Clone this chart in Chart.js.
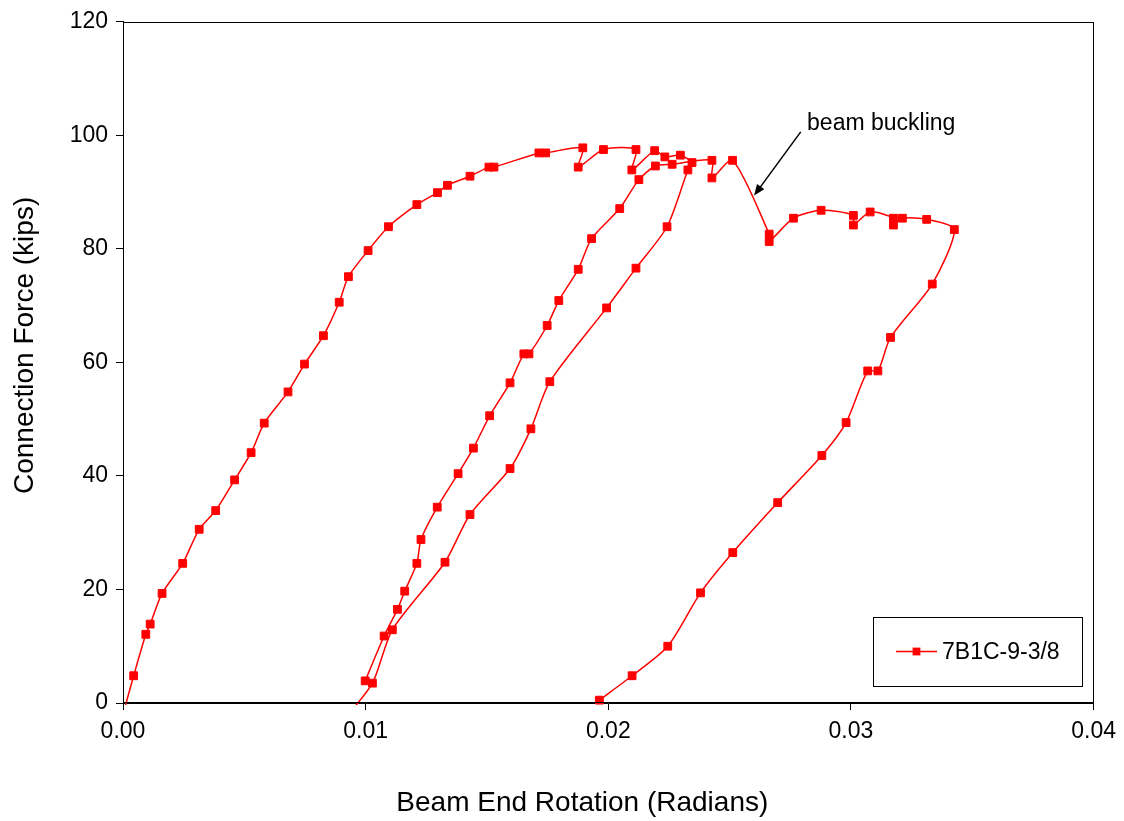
<!DOCTYPE html>
<html>
<head>
<meta charset="utf-8">
<title>7B1C-9-3/8 - Connection Force vs Beam End Rotation</title>
<script src="https://cdn.jsdelivr.net/npm/chart.js@4/dist/chart.umd.min.js"></script>
<style>
  html, body { margin: 0; padding: 0; background: #fff; }
  #chart { display: block; }
</style>
</head>
<body>
<canvas id="chart" width="1124" height="821"></canvas>
<script>
'use strict';

// Test record. Rotation in radians, force in kips.

// first loading, up to the start of the unload
var loadRotation = [0.0000, 0.00044, 0.00094, 0.00112, 0.00161, 0.00246, 0.00314, 0.00382, 0.0046, 0.00528,
    0.00582, 0.0068, 0.00748, 0.00826, 0.00891, 0.00929, 0.0101, 0.01094, 0.01211, 0.01296,
    0.01337, 0.0143, 0.01508, 0.01529, 0.01714, 0.01742, 0.01895, 0.01876, 0.0198, 0.02114,
    0.02097, 0.02191, 0.02233, 0.02297, 0.02345];
var loadForce = [-2, 4.8, 12.1, 13.9, 19.3, 24.6, 30.6, 33.9, 39.3, 44.1,
    49.3, 54.8, 59.7, 64.7, 70.6, 75.1, 79.7, 83.9, 87.8, 89.9,
    91.2, 92.8, 94.4, 94.4, 96.9, 96.9, 97.8, 94.4, 97.5, 97.5,
    93.9, 97.3, 96.2, 96.5, 95.2];

// unload (runs below zero, clipped by the axis)
var unloadRotation = [0.02328, 0.02242, 0.02114, 0.01993, 0.01759, 0.01681, 0.01595, 0.0143, 0.01327, 0.0111,
    0.01028, 0.0091];
var unloadForce = [93.9, 83.9, 76.6, 69.6, 56.6, 48.3, 41.3, 33.2, 24.8, 12.9,
    3.5, -3];

// reload back to the envelope
var reloadRotation = [0.00998, 0.01076, 0.01131, 0.01161, 0.01211, 0.01228, 0.01295, 0.01381, 0.01444, 0.01511,
    0.01595, 0.01652, 0.01673, 0.01748, 0.01796, 0.01876, 0.01931, 0.02047, 0.02126, 0.02194,
    0.02263, 0.02427, 0.02427, 0.02512];
var reloadForce = [3.9, 11.8, 16.5, 19.7, 24.6, 28.8, 34.5, 40.4, 44.9, 50.6,
    56.4, 61.5, 61.5, 66.5, 70.9, 76.4, 81.8, 87.1, 92.2, 94.6,
    94.9, 95.6, 92.5, 95.6];

// after beam buckling
var buckledRotation = [0.02663, 0.02663, 0.02763, 0.02877, 0.0301, 0.0301, 0.03079, 0.03175, 0.03175, 0.03212,
    0.03312, 0.03426];
var buckledForce = [82.6, 81.3, 85.4, 86.8, 85.9, 84.2, 86.5, 85.4, 84.2, 85.4,
    85.2, 83.4];

// final unload
var finalRotation = [0.03335, 0.03163, 0.03111, 0.03069, 0.0298, 0.0288, 0.02698, 0.02513, 0.0238, 0.02245,
    0.02098, 0.01963];
var finalForce = [73.8, 64.4, 58.5, 58.5, 49.4, 43.6, 35.3, 26.5, 19.4, 10.0,
    4.8, 0.5];

var seriesLabel = '7B1C-9-3/8';
var xTicks = [0, 0.01, 0.02, 0.03, 0.04];
var yTicks = [0, 20, 40, 60, 80, 100, 120];
var xTitle = 'Beam End Rotation (Radians)';
var yTitle = 'Connection Force (kips)';

// annotation, in data units
var noteText = 'beam buckling';
var noteAt = [0.02819, 102.1];
var arrowFrom = [0.02793, 100.6];
var arrowTo = [0.02601, 89.4];

var FONT = "'Liberation Sans', Arial, Helvetica, sans-serif";

/**
 * Zip rotation/force arrays into {x, y} points
 */
function toPoints(xs, ys) {
    return xs.map(function(x, i) {
        return { x: x, y: ys[i] };
    });
}

function buildPath() {
    var gap = { x: null, y: null };
    return []
        .concat(toPoints(loadRotation, loadForce))
        .concat(toPoints(unloadRotation, unloadForce))
        .concat([gap])
        .concat(toPoints(reloadRotation, reloadForce))
        .concat(toPoints(buckledRotation, buckledForce))
        .concat(toPoints(finalRotation, finalForce));
}

// black box round the plot area
var framePlugin = {
    id: 'frame',
    afterDraw: function(chart) {
        var a = chart.chartArea;
        var ctx = chart.ctx;
        ctx.save();
        ctx.strokeStyle = '#000';
        ctx.lineWidth = 1;
        ctx.strokeRect(Math.round(a.left) + 0.5, Math.round(a.top) + 0.5,
            Math.round(a.right - a.left) - 1, Math.round(a.bottom - a.top) - 1);
        ctx.restore();
    }
};

// axis titles - the original sits a bit off the plot centre
var titlePlugin = {
    id: 'axisTitles',
    afterDraw: function(chart) {
        var a = chart.chartArea;
        var ctx = chart.ctx;
        ctx.save();
        ctx.fillStyle = '#000';
        ctx.font = '28px ' + FONT;
        ctx.textAlign = 'center';
        ctx.textBaseline = 'middle';
        ctx.fillText(xTitle, (a.left + a.right) / 2 - 26, a.bottom + 100);

        ctx.translate(25, (a.top + a.bottom) / 2 - 17);
        ctx.rotate(-Math.PI / 2);
        ctx.fillText(yTitle, 0, 0);
        ctx.restore();
    }
};

// legend box inside the lower right corner
var legendPlugin = {
    id: 'legendBox',
    afterDraw: function(chart) {
        var a = chart.chartArea;
        var ctx = chart.ctx;
        var ds = chart.data.datasets[0];
        var w = 209, h = 69;
        var x = Math.round(a.right - 12 - w), y = Math.round(a.bottom - 17 - h);
        var cy = y + 34.5;
        var side = ds.pointRadius * Math.SQRT2;

        ctx.save();
        ctx.fillStyle = '#fff';
        ctx.fillRect(x, y, w, h);
        ctx.strokeStyle = '#000';
        ctx.lineWidth = 1;
        ctx.strokeRect(x + 0.5, y + 0.5, w, h);

        ctx.strokeStyle = ds.borderColor;
        ctx.lineWidth = ds.borderWidth;
        ctx.beginPath();
        ctx.moveTo(x + 23, cy);
        ctx.lineTo(x + 64, cy);
        ctx.stroke();
        ctx.fillStyle = ds.pointBackgroundColor;
        ctx.fillRect(x + 43.5 - side / 2, cy - side / 2, side, side);

        ctx.fillStyle = '#000';
        ctx.font = '23px ' + FONT;
        ctx.textAlign = 'left';
        ctx.textBaseline = 'middle';
        ctx.fillText(ds.label, x + 69, cy + 1);
        ctx.restore();
    }
};

// "beam buckling" note with arrow
var notePlugin = {
    id: 'note',
    afterDatasetsDraw: function(chart) {
        var xs = chart.scales.x, ys = chart.scales.y;
        var ctx = chart.ctx;
        var x0 = xs.getPixelForValue(arrowFrom[0]), y0 = ys.getPixelForValue(arrowFrom[1]);
        var x1 = xs.getPixelForValue(arrowTo[0]), y1 = ys.getPixelForValue(arrowTo[1]);
        var ang = Math.atan2(y1 - y0, x1 - x0);
        var len = 11, half = 4.5;

        ctx.save();
        ctx.strokeStyle = '#000';
        ctx.fillStyle = '#000';
        ctx.lineWidth = 1.5;
        ctx.beginPath();
        ctx.moveTo(x0, y0);
        ctx.lineTo(x1 - Math.cos(ang) * len * 0.8, y1 - Math.sin(ang) * len * 0.8);
        ctx.stroke();

        ctx.beginPath();
        ctx.moveTo(x1, y1);
        ctx.lineTo(x1 - Math.cos(ang) * len + Math.sin(ang) * half, y1 - Math.sin(ang) * len - Math.cos(ang) * half);
        ctx.lineTo(x1 - Math.cos(ang) * len - Math.sin(ang) * half, y1 - Math.sin(ang) * len + Math.cos(ang) * half);
        ctx.closePath();
        ctx.fill();

        ctx.font = '23px ' + FONT;
        ctx.textAlign = 'left';
        ctx.textBaseline = 'middle';
        ctx.fillText(noteText, xs.getPixelForValue(noteAt[0]), ys.getPixelForValue(noteAt[1]));
        ctx.restore();
    }
};

var axisGrid = {
    display: true,
    drawOnChartArea: false,
    drawTicks: true,
    tickLength: 7,
    color: '#000',
    lineWidth: 1
};

var config = {
    type: 'scatter',
    data: {
        datasets: [{
            label: seriesLabel,
            data: buildPath(),
            showLine: true,
            spanGaps: false,
            tension: 0.25,
            borderColor: '#ff0000',
            borderWidth: 1.5,
            pointStyle: 'rect',
            pointRadius: 5.5,
            pointHoverRadius: 5.5,
            pointBackgroundColor: '#ff0000',
            pointBorderColor: '#ff0000',
            pointBorderWidth: 1,
            clip: { left: 10, top: 10, right: 10, bottom: 2 }
        }]
    },
    options: {
        responsive: false,
        animation: false,
        events: [],
        layout: {
            autoPadding: false,
            padding: { top: 19, right: 29, left: 0, bottom: 0 }
        },
        plugins: {
            legend: { display: false },
            tooltip: { enabled: false }
        },
        scales: {
            x: {
                type: 'linear',
                min: 0,
                max: 0.04,
                afterFit: function(scale) { scale.height = 118; },
                afterBuildTicks: function(scale) {
                    scale.ticks = xTicks.map(function(v) { return { value: v }; });
                },
                grid: axisGrid,
                border: { display: true, color: '#000', width: 1 },
                ticks: {
                    autoSkip: false,
                    maxRotation: 0,
                    padding: 8,
                    color: '#000',
                    font: { family: FONT, size: 23 },
                    callback: function(v) { return Number(v).toFixed(2); }
                },
                title: { display: false }
            },
            y: {
                type: 'linear',
                min: 0,
                max: 120,
                afterFit: function(scale) { scale.width = 123; },
                afterBuildTicks: function(scale) {
                    scale.ticks = yTicks.map(function(v) { return { value: v }; });
                },
                grid: axisGrid,
                border: { display: true, color: '#000', width: 1 },
                ticks: {
                    padding: 8,
                    color: '#000',
                    font: { family: FONT, size: 23 }
                },
                title: { display: false }
            }
        }
    },
    plugins: [framePlugin, titlePlugin, notePlugin, legendPlugin]
};

new Chart(document.getElementById('chart').getContext('2d'), config);
</script>
</body>
</html>
